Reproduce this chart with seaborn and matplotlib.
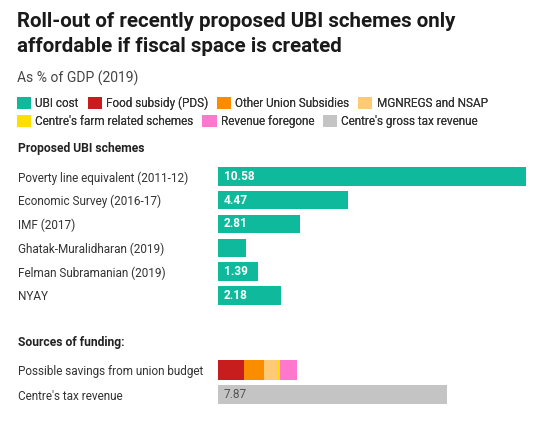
import matplotlib
matplotlib.use("Agg")
import matplotlib.pyplot as plt
from matplotlib.patches import Patch
import seaborn as sns
import pandas as pd
import numpy as np

# ---- data ----
schemes = ["Poverty line equivalent (2011-12)", "Economic Survey (2016-17)", "IMF (2017)",
           "Ghatak-Muralidharan (2019)", "Felman Subramanian (2019)", "NYAY"]
ubi_cost = [10.58, 4.47, 2.81, 0.96, 1.39, 2.18]

funding_rows = ["Possible savings from union budget", "Centre's tax revenue"]
saving_parts = ["Food subsidy (PDS)", "Other Union Subsidies", "MGNREGS and NSAP",
                "Centre's farm related schemes", "Revenue foregone"]
saving_values = [0.90, 0.69, 0.43, 0.12, 0.57]
tax_revenue = 7.87

legend_labels = ["UBI cost", "Food subsidy (PDS)", "Other Union Subsidies", "MGNREGS and NSAP",
                 "Centre's farm related schemes", "Revenue foregone", "Centre's gross tax revenue"]

# ---- style ----
TEAL = "#0fb99c"
COLORS = {"UBI cost": TEAL, "Food subsidy (PDS)": "#c71e1d", "Other Union Subsidies": "#fa8c00",
          "MGNREGS and NSAP": "#ffca76", "Centre's farm related schemes": "#ffdf00",
          "Revenue foregone": "#ff78cd", "Centre's gross tax revenue": "#c4c4c4"}

sns.set_style("white")
plt.rcParams["font.family"] = ["Roboto", "DejaVu Sans"]

W, H = 542, 421
fig = plt.figure(figsize=(W / 100, H / 100), dpi=100)

def fx(px):
    return px / W

def fy(py):
    return 1 - py / H

TXT = "#333333"

# title and subtitle
fig.text(fx(17), fy(26.7), "Roll-out of recently proposed UBI schemes only", fontsize=14.8,
         fontweight="bold", color="#1a1a1a", va="baseline", ha="left")
fig.text(fx(17), fy(52.3), "affordable if fiscal space is created", fontsize=14.8,
         fontweight="bold", color="#1a1a1a", va="baseline", ha="left")
fig.text(fx(17), fy(82.7), "As % of GDP (2019)", fontsize=10, color="#444444",
         va="baseline", ha="left")

# legends (two rows)
def make_legend(labels, ypx):
    handles = [Patch(facecolor=COLORS[l], edgecolor="none") for l in labels]
    leg = fig.legend(handles, labels, loc="center left", bbox_to_anchor=(fx(17), fy(ypx)),
                     ncol=len(labels), frameon=False, fontsize=8.5, handlelength=1.2,
                     handleheight=1.2, handletextpad=0.35, columnspacing=0.75,
                     borderpad=0, borderaxespad=0, labelcolor=TXT)
    fig.add_artist(leg)
    return leg

make_legend(legend_labels[:4], 103.7)
make_legend(legend_labels[4:], 121.7)

# section headers
fig.text(fx(18), fy(148.8), "Proposed UBI schemes", fontsize=8.7, fontweight="bold",
         color="#222222", va="center", ha="left")
fig.text(fx(18), fy(342.5), "Sources of funding:", fontsize=8.7, fontweight="bold",
         color="#222222", va="center", ha="left")

x0 = 218
xmax = 10.58

# ---- UBI schemes axes ----
step1 = 23.84
top1 = 176.3 - step1 / 2
h1 = step1 * len(schemes)
ax1 = fig.add_axes([fx(x0), fy(top1 + h1), fx(308), h1 / H])
df1 = pd.DataFrame({"scheme": schemes, "cost": ubi_cost})
sns.barplot(data=df1, x="cost", y="scheme", order=schemes, orient="h", color=TEAL,
            saturation=1, width=0.78, linewidth=0, ax=ax1)
for i, v in enumerate(ubi_cost):
    if v >= 1:
        ax1.annotate(f"{v:.2f}", xy=(0, i), xytext=(4.3, 0), textcoords="offset points",
                     ha="left", va="center", fontsize=8.6, fontweight="bold", color="white")

# ---- funding axes ----
step2 = 24.5
top2 = 370 - step2 / 2
h2 = step2 * len(funding_rows)
ax2 = fig.add_axes([fx(x0), fy(top2 + h2), fx(308), h2 / H])
cum = np.cumsum(saving_values)
for k in range(len(saving_parts) - 1, -1, -1):
    dfk = pd.DataFrame({"row": [funding_rows[0]], "value": [cum[k]]})
    sns.barplot(data=dfk, x="value", y="row", order=funding_rows, orient="h",
                color=COLORS[saving_parts[k]], saturation=1, width=0.8, linewidth=0, ax=ax2)
dft = pd.DataFrame({"row": [funding_rows[1]], "value": [tax_revenue]})
sns.barplot(data=dft, x="value", y="row", order=funding_rows, orient="h",
            color=COLORS["Centre's gross tax revenue"], saturation=1, width=0.8,
            linewidth=0, ax=ax2)
ax2.annotate(f"{tax_revenue:.2f}", xy=(0, 1), xytext=(4.0, 0), textcoords="offset points",
             ha="left", va="center", fontsize=8.6, color="#555555")

for ax in (ax1, ax2):
    ax.set_xlim(0, xmax)
    ax.set_xlabel("")
    ax.set_ylabel("")
    ax.set_xticks([])
    for s in ax.spines.values():
        s.set_visible(False)
    ax.tick_params(axis="y", length=0, pad=(x0 - 18) * 0.72, labelsize=8.5, labelcolor=TXT)
    for lab in ax.get_yticklabels():
        lab.set_horizontalalignment("left")
    ax.set_facecolor("none")
    ax.patch.set_alpha(0)

ax1.set_ylim(len(schemes) - 0.5, -0.5)
ax2.set_ylim(len(funding_rows) - 0.5, -0.5)

fig.savefig("out.png", dpi=100, facecolor="white")
